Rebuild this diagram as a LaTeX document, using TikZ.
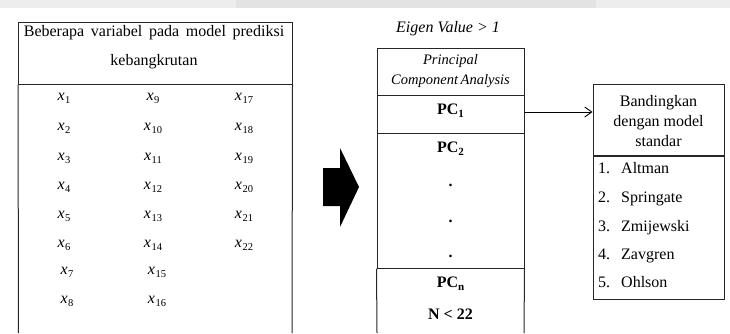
\documentclass[tikz,border=0pt]{standalone}
\usepackage{fontspec}
\setmainfont{Liberation Serif}
\usetikzlibrary{arrows.meta}
\newcommand{\pcsub}[1]{\textbf{PC\raisebox{-.4ex}{\fontsize{11}{11}\selectfont #1}}}
\newcommand{\xv}[1]{\textit{x}\kern0.5pt\raisebox{-.45ex}{\fontsize{10.5}{10.5}\selectfont #1}}
\tikzset{
  boxline/.style={line width=1pt, draw=black!85},
  txt/.style={inner sep=0pt, text height=0.7em, text depth=0.2em, font=\fontsize{16}{18}\selectfont},
  var/.style={inner sep=0pt, text height=0.7em, text depth=0.2em, font=\fontsize{16}{18}\selectfont},
  cell/.style={boxline, inner sep=0pt, draw},
}
\begin{document}
\begin{tikzpicture}[x=1pt,y=-1pt]
\useasboundingbox (0,0) rectangle (730,333);
% screenshot band
\fill[black!7] (0,0) rectangle (730,8);
\fill[black!11] (236,0) rectangle (596,8);

% ---- left box ----
\node[cell, minimum width=273.5pt, minimum height=61.5pt] (hdr) at (155.25,53.25) {};
\draw[boxline] (hdr.south west) -- (18.5,333);
\draw[boxline] (hdr.south east) -- (292,333);
\node[txt] (h1) at (154,34) {Beberapa\ \,variabel\,\ pada\,\ model\,\ prediksi};
\node[txt] (h2) at (154,63) {kebangkrutan};

% variables
\node[var] (x1) at (64,98) {\xv{1}};
\node[var] (x2) at (64,128) {\xv{2}};
\node[var] (x3) at (64,158) {\xv{3}};
\node[var] (x4) at (64,187) {\xv{4}};
\node[var] (x5) at (64,216) {\xv{5}};
\node[var] (x6) at (64,245) {\xv{6}};
\node[var] (x7) at (67,272) {\xv{7}};
\node[var] (x8) at (67,301) {\xv{8}};
\node[var] (x9) at (153,98) {\xv{9}};
\node[var] (x10) at (153,128) {\xv{10}};
\node[var] (x11) at (153,158) {\xv{11}};
\node[var] (x12) at (153,187) {\xv{12}};
\node[var] (x13) at (153,216) {\xv{13}};
\node[var] (x14) at (153,245) {\xv{14}};
\node[var] (x15) at (157,272) {\xv{15}};
\node[var] (x16) at (157,301) {\xv{16}};
\node[var] (x17) at (244,98) {\xv{17}};
\node[var] (x18) at (244,128) {\xv{18}};
\node[var] (x19) at (244,158) {\xv{19}};
\node[var] (x20) at (244,187) {\xv{20}};
\node[var] (x21) at (244,216) {\xv{21}};
\node[var] (x22) at (244,245) {\xv{22}};

% ---- block arrow ----
\fill[black] (323,168) -- (340,168) -- (340,148) -- (359,187) -- (340,227) -- (340,206) -- (323,206) -- cycle;

% ---- PCA column ----
\node[txt, font=\itshape\fontsize{16}{18}\selectfont] (eig) at (448,30) {Eigen Value > 1};
\node[cell, minimum width=147pt, minimum height=47pt] (pca) at (450.5,71.5) {};
\node[txt, font=\itshape\fontsize{14.5}{17}\selectfont] (pca1) at (450.5,62) {Principal};
\node[txt, font=\itshape\fontsize{14.5}{17}\selectfont] (pca2) at (450.5,82) {Component\hspace{-1pt} Analysis};
\node[cell, minimum width=147pt, minimum height=38pt] (pc1box) at (450.5,114) {};
\node[txt] (pc1) at (450.5,112) {\pcsub{1}};
\node[cell, minimum width=147pt, minimum height=135pt] (midbox) at (450.5,200.5) {};
\node[txt] (pc2) at (450.5,150) {\pcsub{2}};
\node[txt] (d1) at (450.5,184) {\textbf{.}};
\node[txt] (d2) at (450.5,220) {\textbf{.}};
\node[txt] (d3) at (450.5,255) {\textbf{.}};
\draw[boxline] (midbox.south west) -- (377,333);
\draw[boxline] (midbox.south east) -- (524,333);
\node[txt] (pcn) at (450.5,285) {\pcsub{n}};
\node[txt] (nl) at (450.5,317) {\textbf{N < 22}};

% ---- right box ----
\node[cell, minimum width=131pt, minimum height=71pt] (band) at (658.5,119.5) {};
\node[txt] (b1) at (658.5,104) {Bandingkan};
\node[txt] (b2) at (658.5,124) {dengan model};
\node[txt] (b3) at (658.5,144) {standar};
\node[cell, minimum width=131pt, minimum height=143pt, anchor=north] (list) at (band.south) {};
\node[txt, anchor=west] (n1) at (598,171) {1.};
\node[txt, anchor=west] (n2) at (598,200) {2.};
\node[txt, anchor=west] (n3) at (598,229) {3.};
\node[txt, anchor=west] (n4) at (598,257) {4.};
\node[txt, anchor=west] (n5) at (598,285) {5.};
\node[txt, anchor=west] (m1) at (621,171) {Altman};
\node[txt, anchor=west] (m2) at (621,200) {Springate};
\node[txt, anchor=west] (m3) at (621,229) {Zmijewski};
\node[txt, anchor=west] (m4) at (621,257) {Zavgren};
\node[txt, anchor=west] (m5) at (621,285) {Ohlson};

% connector
\draw[line width=0.9pt, -{Straight Barb[length=7pt,width=10pt]}] (pc1box.east |- 0,112) -- (band.west |- 0,112);
\end{tikzpicture}
\end{document}
